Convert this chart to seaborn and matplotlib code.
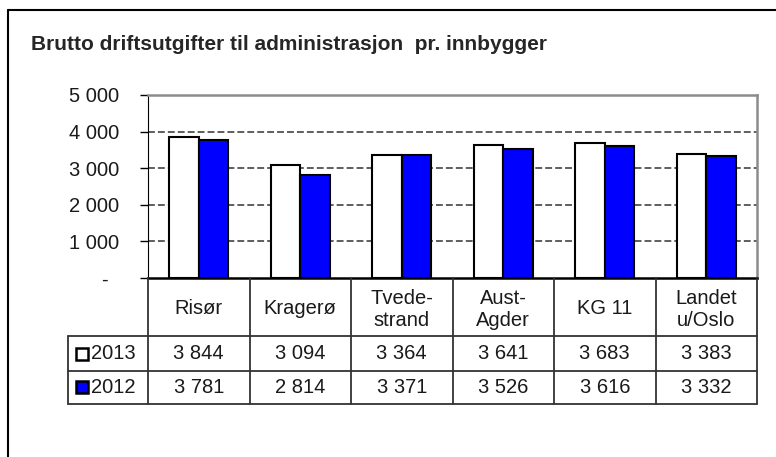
import seaborn as sns
import matplotlib.pyplot as plt
import pandas as pd
from matplotlib.lines import Line2D

# chart data
title = "Brutto driftsutgifter til administrasjon  pr. innbygger"
kommuner = ["Risør", "Kragerø", "Tvede-\nstrand", "Aust-\nAgder", "KG 11", "Landet\nu/Oslo"]
aar = ["2013", "2012"]
verdier_2013 = [3844, 3094, 3364, 3641, 3683, 3383]
verdier_2012 = [3781, 2814, 3371, 3526, 3616, 3332]
y_ticks = [0, 1000, 2000, 3000, 4000, 5000]

farger = {"2013": "white", "2012": "#0000ff"}


def fmt(v):
    # norsk tusenskille, 0 vises som "-"
    if v == 0:
        return "-  "
    return f"{v:,}".replace(",", " ")


df = pd.DataFrame({
    "kommune": kommuner * 2,
    "aar": [aar[0]] * len(kommuner) + [aar[1]] * len(kommuner),
    "verdi": verdier_2013 + verdier_2012,
})

sns.set_style("white")
plt.rcParams['font.family'] = ['Liberation Sans', 'DejaVu Sans']

W, H = 776, 457
fs = 14.5
tc = "#1a1a1a"
fig = plt.figure(figsize=(W / 100, H / 100), dpi=100)

# pixel layout
x0, x1 = 148, 757      # plot left/right
y_top, y_zero = 95, 278
ax = fig.add_axes([x0 / W, 1 - y_zero / H, (x1 - x0) / W, (y_zero - y_top) / H])

sns.barplot(data=df, x="kommune", y="verdi", hue="aar", order=kommuner,
            hue_order=aar, palette=farger, saturation=1, edgecolor="black",
            linewidth=1.5, width=0.58, errorbar=None, legend=False, ax=ax)

ax.set_xlim(-0.5, len(kommuner) - 0.5)
ax.set_ylim(0, 5000)
ax.set_yticks(y_ticks)
ax.set_yticklabels([fmt(v) for v in y_ticks], fontsize=fs, color=tc)
ax.set_xticks([])
ax.set_xlabel("")
ax.set_ylabel("")
ax.tick_params(axis="y", length=5.5, width=1, color="black", pad=15, left=True)
for v in y_ticks[1:-1]:
    ax.axhline(v, color="#333333", lw=1.1, ls=(0, (4.5, 2)), zorder=0)
ax.spines["left"].set_color("black")
ax.spines["bottom"].set_color("black")
ax.spines["bottom"].set_linewidth(1.8)
for s in ["top", "right"]:
    ax.spines[s].set_color("#8c8c8c")
    ax.spines[s].set_linewidth(1.8)

# data table under the chart
t_left, t_bottom = 68, 404
row_edges = [278, 336, 371, 404]
px = (x1 - x0) / len(kommuner)      # pixels per category
lab_w = (x0 - t_left) / px
tax = fig.add_axes([t_left / W, 1 - t_bottom / H, (x1 - t_left) / W, (t_bottom - y_zero) / H])
tax.set_xlim(-0.5 - lab_w, len(kommuner) - 0.5)
tax.set_ylim(t_bottom, y_zero)
tax.axis("off")

lc = "#333333"
for y in row_edges[1:]:
    tax.plot([-0.5 - lab_w, len(kommuner) - 0.5], [y, y], color=lc, lw=1.3, clip_on=False)
tax.plot([-0.5 - lab_w] * 2, [row_edges[1], row_edges[-1]], color=lc, lw=1.3, clip_on=False)
for k in range(len(kommuner) + 1):
    tax.plot([k - 0.5] * 2, [row_edges[0], row_edges[-1]], color=lc, lw=1.3, clip_on=False)

for k, navn in enumerate(kommuner):
    tax.text(k, (row_edges[0] + row_edges[1]) / 2 + 2, navn, ha="center", va="center",
             fontsize=fs, linespacing=1.2, color=tc)

rader = [verdier_2013, verdier_2012]
for r, (aarstall, verdier) in enumerate(zip(aar, rader)):
    yc = (row_edges[r + 1] + row_edges[r + 2]) / 2
    for k, v in enumerate(verdier):
        tax.text(k, yc, fmt(v), ha="center", va="center", fontsize=fs, color=tc)
    xm = -0.5 - lab_w + 13.5 / px
    tax.plot([xm], [yc], marker="s", ms=8, mfc=farger[aarstall], mec="black", mew=1.8,
             clip_on=False)
    tax.text(-0.5 - lab_w + 22.5 / px, yc, aarstall, ha="left", va="center", fontsize=fs, color=tc)

fig.text(31 / W, 1 - 44 / H, title, fontsize=15, fontweight="bold", va="center")

# outer frame (only top and left visible)
fig.add_artist(Line2D([8 / W, 1], [1 - 10 / H, 1 - 10 / H], color="black", lw=1.5))
fig.add_artist(Line2D([8 / W, 8 / W], [0, 1 - 10 / H], color="black", lw=1.5))

fig.savefig("out.png", dpi=100)
